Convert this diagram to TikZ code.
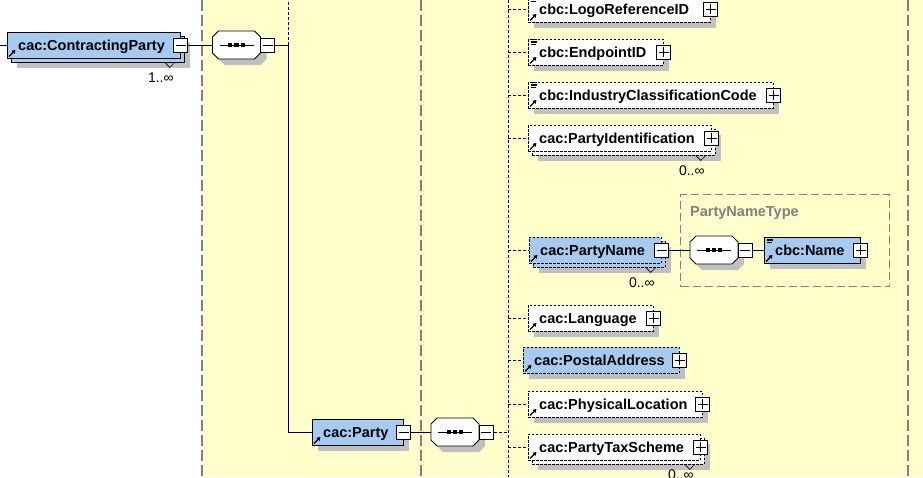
\documentclass[tikz,border=0pt]{standalone}
\usepackage{fontspec}
\setmainfont{Liberation Sans}
\usetikzlibrary{arrows.meta,shadows,calc}
\definecolor{bgy}{HTML}{FFFFCC}
\definecolor{elblue}{HTML}{A6CAF0}
\definecolor{shad}{HTML}{C0C0C0}
\definecolor{gline}{HTML}{808080}
\tikzset{
  elem/.style={draw=black, line width=0.8pt, minimum height=26pt, inner sep=0pt, anchor=west},
  whitefill/.style={fill=white},
  bluefill/.style={fill=elblue},
  optional/.style={dash pattern=on 2.5pt off 1.5pt},
  oneshadow/.style={general shadow={fill=shad, shadow xshift=6pt, shadow yshift=-6pt}},
  stackw/.style={general shadow={fill=shad, shadow xshift=10pt, shadow yshift=-10pt},
                 general shadow={fill=white, draw=black, line width=0.8pt, shadow xshift=4pt, shadow yshift=-4pt}},
  stackb/.style={general shadow={fill=shad, shadow xshift=10pt, shadow yshift=-10pt},
                 general shadow={fill=elblue, draw=black, line width=0.8pt, shadow xshift=4pt, shadow yshift=-4pt}},
  etext/.style={font=\bfseries\fontsize{14.5}{17}\selectfont, inner sep=0pt, anchor=base west},
  card/.style={font=\fontsize{14}{16}\selectfont, inner sep=0pt, anchor=base east},
  expander/.style={draw=black, fill=white, line width=0.8pt, minimum size=14pt, inner sep=0pt, solid},
  minus/.style={expander, path picture={
      \draw[line width=0.8pt] ([xshift=2pt]path picture bounding box.west) -- ([xshift=-2pt]path picture bounding box.east);}},
  plus/.style={expander, path picture={
      \draw[line width=0.8pt] ([xshift=2pt]path picture bounding box.west) -- ([xshift=-2pt]path picture bounding box.east);
      \draw[line width=0.8pt] ([yshift=-2pt]path picture bounding box.north) -- ([yshift=2pt]path picture bounding box.south);}},
  conn/.style={draw=black, line width=0.9pt},
  dsh/.style={draw=black, line width=0.9pt, dash pattern=on 3pt off 2pt},
  gdash/.style={draw=gline, line width=1.2pt, dash pattern=on 11pt off 4pt},
  framebox/.style={draw=gline, line width=1.2pt, dash pattern=on 8pt off 4pt, inner sep=0pt},
  refarrow/.style={line width=1.2pt, solid, -{Triangle[length=3.6pt,width=4.2pt]}},
  seqn/.style={inner sep=0pt, minimum width=48pt, minimum height=28pt},
}
\newcommand\xelem[6]{%
  \node[elem,#5,minimum width=#4pt] (#1) at (#2,#3) {};
  \node[etext] (#1-t) at ([xshift=11pt,yshift=-5.2pt]#1.west) {#6};
  \draw[refarrow] ([xshift=2pt,yshift=2pt]#1.south west) -- ++(6.5,-6.5);
}
\newcommand\xicon[1]{%
  \draw[line width=0.7pt] ([xshift=3pt,yshift=-1pt]#1.north west) -- ++(6,0)
    ([xshift=3pt,yshift=-2.6pt]#1.north west) -- ++(6,0)
    ([xshift=3pt,yshift=-4.2pt]#1.north west) -- ++(6,0)
    ([xshift=3pt,yshift=-5.8pt]#1.north west) -- ++(4.5,0);
}
\newcommand\xnotch[1]{%
  \draw[line width=0.6pt] ($(#1.south east)+(-16,4)$) -- ++(5,5) -- ++(5,-5);
}
\newcommand\xseq[3]{%
  \begin{scope}[shift={(#2+6,#3+6)}]
    \fill[shad] (-18,-14) -- (18,-14) -- (24,-8) -- (24,8) -- (18,14) -- (-18,14) -- (-24,8) -- (-24,-8) -- cycle;
  \end{scope}
  \node[seqn] (#1) at (#2,#3) {};
  \begin{scope}[shift={(#2,#3)}]
    \draw[line width=0.8pt, fill=white] (-18,-14) -- (18,-14) -- (24,-8) -- (24,8) -- (18,14) -- (-18,14) -- (-24,8) -- (-24,-8) -- cycle;
    \draw[line width=0.8pt] (-17,0) -- (17,0);
    \fill (-8.4,-2.1) rectangle (-4.2,2.1);
    \fill (-2.1,-2.1) rectangle (2.1,2.1);
    \fill (4.2,-2.1) rectangle (8.4,2.1);
  \end{scope}
  \node[minus] (#1-x) at ([xshift=7pt]#1.east) {};
}
\begin{document}
\begin{tikzpicture}[x=1pt,y=-1pt]
\path[use as bounding box] (0,0) rectangle (923,477);
\clip (0,0) rectangle (923,477);
% backgrounds
\fill[white] (0,0) rectangle (202,477);
\fill[bgy] (202,0) rectangle (923,477);
\draw[gdash] (202,0) -- (202,477);
\draw[gdash] (421,0) -- (421,477);
\draw[gdash] (908,0) -- (908,477);
% PartyNameType frame
\node[framebox, anchor=north west, minimum width=209pt, minimum height=92pt] (pnt) at (680,194) {};
\node[etext, text=gline] (pnt-l) at (690,216) {PartyNameType};
% coordinates
\coordinate (in0) at (0,45);
\coordinate (j1) at (288,45);
\coordinate (j1top) at (288,0);
\coordinate (bus) at (508,0);
\coordinate (busend) at (508,477);
% ContractingParty
\xelem{cp}{7}{45}{173}{bluefill,stackb}{cac:ContractingParty}
\xnotch{cp}
\node[minus] (cp-x) at (cp.east) {};
\node[card] (cp-c) at ($(cp.south east)+(-7,24)$) {1..∞};
\xseq{s1}{236.5}{45}
% Party
\xelem{party}{312}{432}{91}{bluefill,oneshadow}{cac:Party}
\node[minus] (party-x) at (party.east) {};
\xseq{s2}{455}{432}
% children
\xelem{logo}{528}{9}{182}{whitefill,optional,oneshadow}{cbc:LogoReferenceID}
\xicon{logo}
\node[plus] (logo-x) at (logo.east) {};
\xelem{endp}{528}{52}{135}{whitefill,optional,oneshadow}{cbc:EndpointID}
\xicon{endp}
\node[plus] (endp-x) at (endp.east) {};
\xelem{indus}{528}{95}{245}{whitefill,optional,oneshadow}{cbc:IndustryClassificationCode}
\xicon{indus}
\node[plus] (indus-x) at (indus.east) {};
\xelem{pid}{528}{138}{183}{whitefill,optional,stackw}{cac:PartyIdentification}
\xnotch{pid}
\node[plus] (pid-x) at (pid.east) {};
\node[card] (pid-c) at ($(pid.south east)+(-7,24)$) {0..∞};
\xelem{pn}{529}{250}{132}{bluefill,optional,stackb}{cac:PartyName}
\xnotch{pn}
\node[minus] (pn-x) at (pn.east) {};
\node[card] (pn-c) at ($(pn.south east)+(-7,24)$) {0..∞};
\xseq{s3}{714}{250}
\xelem{name}{764}{250}{96}{bluefill,oneshadow}{cbc:Name}
\xicon{name}
\node[plus] (name-x) at (name.east) {};
\xelem{lang}{528}{318}{125}{whitefill,optional,oneshadow}{cac:Language}
\node[plus] (lang-x) at (lang.east) {};
\xelem{postal}{523}{360}{156}{bluefill,optional,oneshadow}{cac:PostalAddress}
\node[plus] (postal-x) at (postal.east) {};
\xelem{phys}{528}{404}{174}{whitefill,optional,oneshadow}{cac:PhysicalLocation}
\node[plus] (phys-x) at (phys.east) {};
\xelem{pts}{528}{447}{172}{whitefill,optional,stackw}{cac:PartyTaxScheme}
\xnotch{pts}
\node[plus] (pts-x) at (pts.east) {};
\node[card] (pts-c) at ($(pts.south east)+(-7,19)$) {0..∞};
% connectors
\draw[conn] (in0) -- (cp.west);
\draw[conn] (cp-x.east) -- (s1.west);
\draw[conn] (s1-x.east) -- (j1);
\draw[dsh] (j1) -- (j1top);
\draw[conn] (j1) |- (party.west);
\draw[conn] (party-x.east) -- (s2.west);
\draw[dsh] (s2-x.east) -- (bus |- s2-x.east);
\draw[dsh] (bus) -- (busend);
\foreach \c in {logo,endp,indus,pid,pn,lang,postal,phys,pts}{
  \draw[dsh] (bus |- \c.west) -- (\c.west);
}
\draw[conn] (pn-x.east) -- (s3.west);
\draw[conn] (s3-x.east) -- (name.west);
\end{tikzpicture}
\end{document}
